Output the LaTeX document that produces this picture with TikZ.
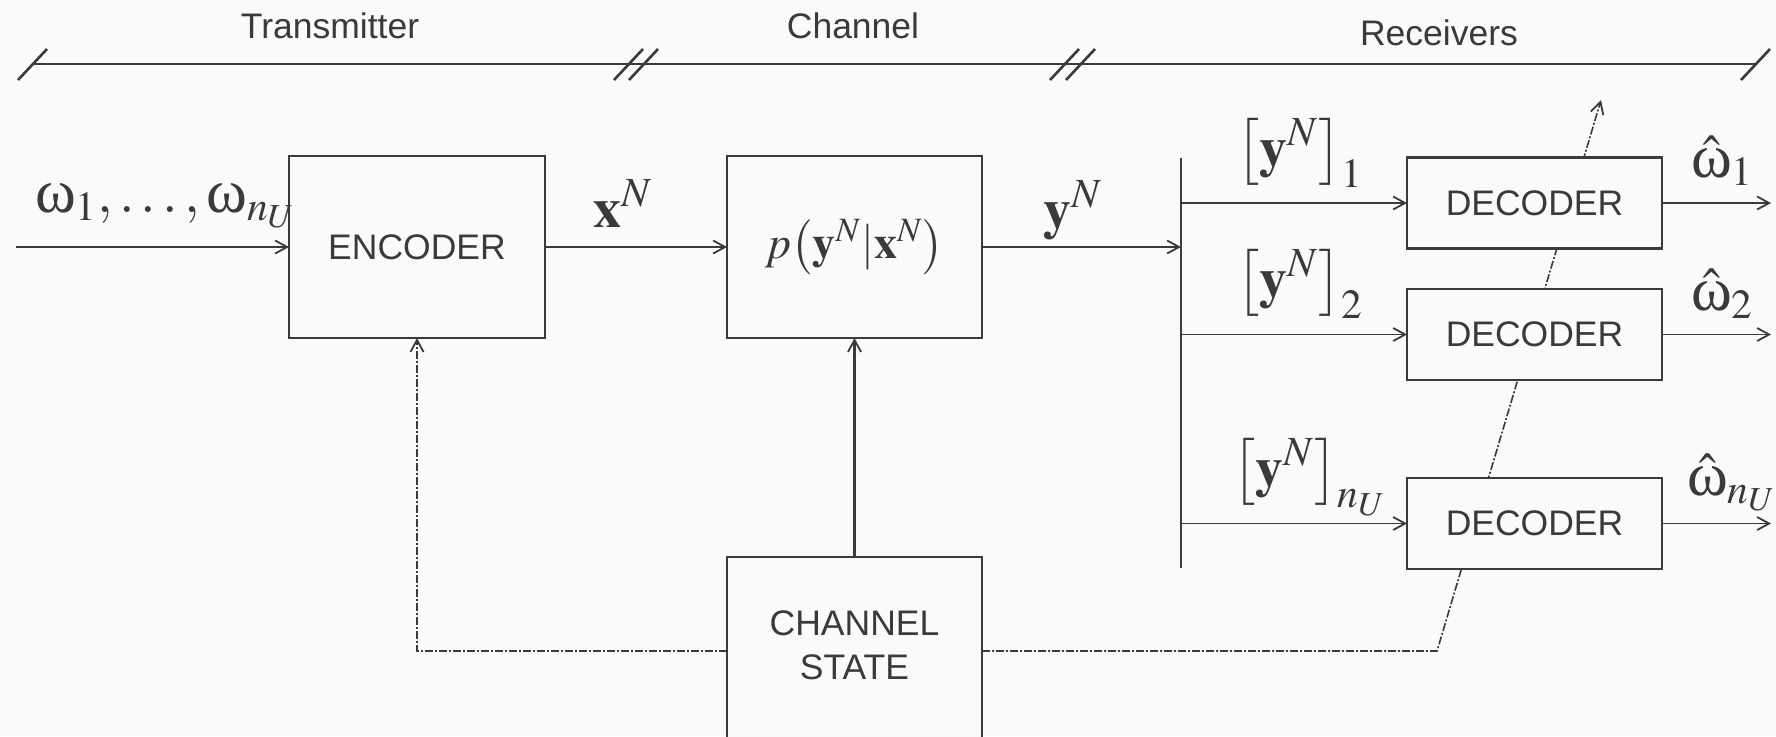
\documentclass[tikz,border=0pt]{standalone}
\usepackage{mathptmx}
\usepackage{amsmath}
\usepackage[no-math]{fontspec}
\newfontfamily\lsans{Liberation Sans}
\newfontfamily\lserif{Liberation Serif}
\newcommand{\uom}{\mbox{\lserif\fontsize{31}{36}\selectfont ω}}
\usetikzlibrary{arrows.meta}
\definecolor{bg}{HTML}{FAFAF8}
\definecolor{ink}{HTML}{3A3A3A}
\pgfdeclarelayer{back}
\pgfsetlayers{back,main}
\begin{document}
\begin{tikzpicture}[x=0.5pt,y=-0.5pt,
  every node/.style={inner sep=0pt, outer sep=0pt},
  blk/.style={draw=ink, line width=1.1pt, fill=bg},
  lab/.style={text=ink, font=\lsans\fontsize{17.75}{22}\selectfont},
  mlab/.style={text=ink, font=\fontsize{28}{33}\selectfont},
  arrowend/.style={-{Straight Barb[length=6pt,width=6.5pt,line width=0.9pt]}},
  sig/.style={arrowend, draw=ink, line width=1.2pt},
  branch/.style={arrowend, draw=ink, line width=0.8pt},
  csi/.style={arrowend, draw=ink, line width=0.8pt, dash pattern=on 4pt off 1pt on 1pt off 1pt},
  barmark/.style={draw=ink, line width=1.3pt}]

\useasboundingbox (0,0) rectangle (1776,736);
\clip (0,0) rectangle (1776,736);

% section bar with break marks
\draw[barmark] (32,64) -- (1755,64);
\draw[barmark] (18,80) -- (47,49);
\draw[barmark] (614,80) -- (643,49);
\draw[barmark] (629,80) -- (658,49);
\draw[barmark] (1050,80) -- (1079,49);
\draw[barmark] (1066,80) -- (1095,49);
\draw[barmark] (1741,80) -- (1770,49);
\node[lab, anchor=base] (ttx) at (330,38) {Transmitter};
\node[lab, anchor=base] (tch) at (853,38) {Channel};
\node[lab, anchor=base] (trx) at (1439,45) {Receivers};

% blocks
\node[blk, lab, minimum width=128pt, minimum height=91pt] (enc) at (417,247) {ENCODER};
\node[blk, minimum width=127.5pt, minimum height=91pt, text=ink,
      font=\fontsize{23}{27}\selectfont] (chan) at (854.5,247)
      {$p\big(\mathbf{y}^N|\mathbf{x}^N\big)$};
\node[blk, minimum width=127.5pt, minimum height=94pt] (state) at (854.5,651) {};
\node[lab, align=center] (statetxt) at (854.5,645) {CHANNEL\\STATE};
\node[blk, lab, minimum width=127.5pt, minimum height=45.5pt] (dec1) at (1534.5,203) {DECODER};
\node[blk, lab, minimum width=127.5pt, minimum height=45.5pt] (dec2) at (1534.5,334.5) {DECODER};
\node[blk, lab, minimum width=127.5pt, minimum height=45.5pt] (dec3) at (1534.5,523.5) {DECODER};

% signal labels
\node[mlab, anchor=base west] (win) at (35,212) {$\uom_1,\ldots,\uom_{n_U}$};
\node[mlab, anchor=base west] (xlab) at (593,227) {$\mathbf{x}^N$};
\node[mlab, anchor=base west] (ylab) at (1043,228) {$\mathbf{y}^N$};
\node[mlab, anchor=base west] (yl1) at (1236,166) {$\big[\mathbf{y}^N\big]_1$};
\node[mlab, anchor=base west] (yl2) at (1236,297) {$\big[\mathbf{y}^N\big]_2$};
\node[mlab, anchor=base west] (yl3) at (1232,486) {$\big[\mathbf{y}^N\big]_{n_U}$};
\node[mlab, anchor=base west] (w1) at (1691,177) {$\hat{\uom}_1$};
\node[mlab, anchor=base west] (w2) at (1691,310) {$\hat{\uom}_2$};
\node[mlab, anchor=base west] (w3) at (1687,495) {$\hat{\uom}_{n_U}$};

% connectors
\coordinate (src) at (16,247);
\coordinate (busin) at (1181,247);
\coordinate (bustop) at (1181,158);
\coordinate (busbot) at (1181,568);
\coordinate (outx) at (1771,0);
\coordinate (kink) at (1437,651);
\coordinate (csitip) at (1601,100);

\draw[sig] (src) -- (enc.west);
\draw[sig] (enc.east) -- (chan.west);
\draw[sig] (chan.east) -- (busin);
\draw[ink, line width=1pt] (bustop) -- (busbot);
\foreach \d in {dec1,dec2,dec3}{
  \draw[branch] (\d.west -| busin) -- (\d.west);
  \draw[branch] (\d.east) -- (\d.east -| outx);
}
\draw[sig] (state.north) -- (chan.south);

% channel state information paths, behind the blocks
\begin{pgfonlayer}{back}
  \fill[bg] (0,0) rectangle (1776,736);
  \draw[csi] (state.west) -| (enc.south);
  \draw[csi] (state.east) -- (kink) -- (csitip);
\end{pgfonlayer}
\end{tikzpicture}
\end{document}
